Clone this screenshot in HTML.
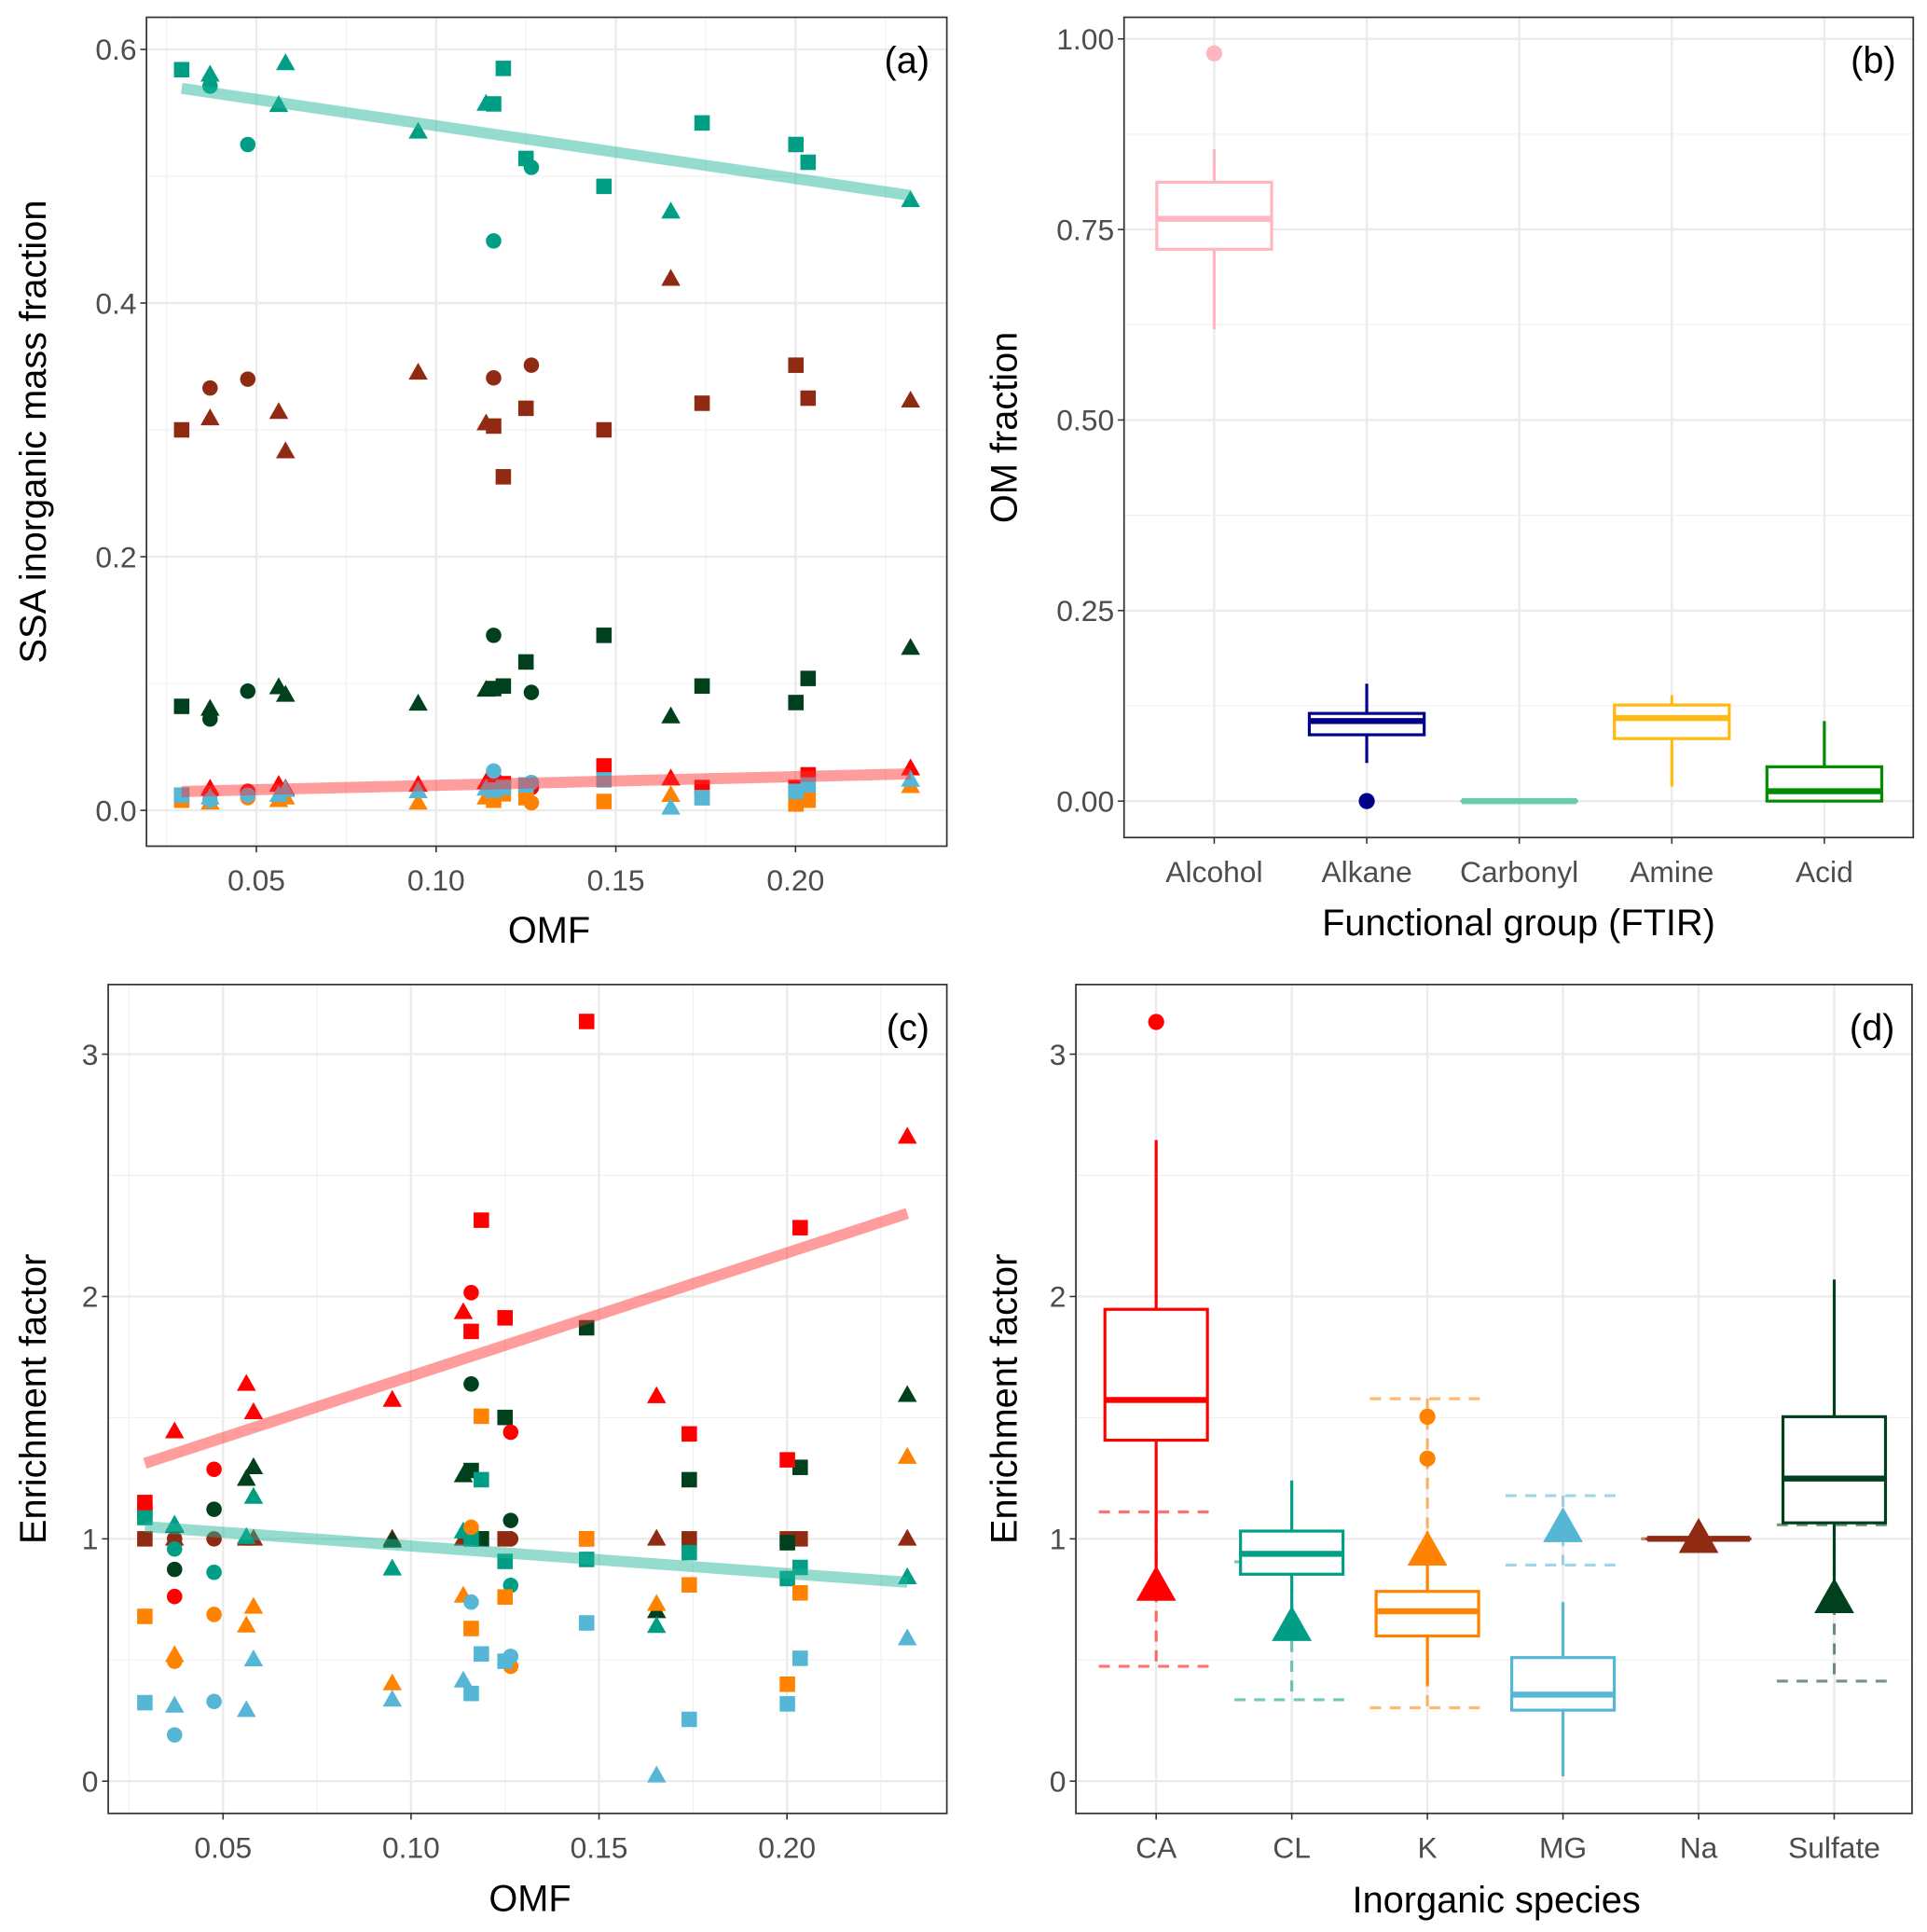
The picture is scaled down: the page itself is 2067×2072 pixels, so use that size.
<!DOCTYPE html>
<html><head><meta charset="utf-8"><style>
html,body{margin:0;padding:0;background:#fff}
svg{display:block}
text{font-family:"Liberation Sans",Arial,sans-serif}
</style></head><body>
<svg id="fig" xmlns="http://www.w3.org/2000/svg" width="2067" height="2072" viewBox="0 0 1560 1564"></svg>
<script>
// ---------- data ----------
const sampleOMF = [0.0292,0.0371,0.0371,0.0476,0.0562,0.0581,0.095,0.1139,0.116,0.116,0.1187,0.125,0.1265,0.1467,0.1653,0.174,0.2001,0.2035,0.232];
const sampleShape = ['s','t','c','c','t','t','t','t','c','s','s','s','c','s','t','s','s','s','t'];
const speciesNames = ['CA','CL','K','MG','Na','Sulfate'];
const speciesColors = ['#FF0000','#009E84','#FF8200','#56B6D6','#912A12','#00401C'];
// panel (a) mass fractions
const massCA = [0.012,0.017,0.013,0.015,0.020,0.017,0.020,0.022,0.021,0.022,0.021,0.020,0.018,0.035,0.025,0.018,0.018,0.028,0.033];
const massCL = [0.584,0.580,0.571,0.525,0.556,0.589,0.535,0.557,0.449,0.557,0.585,0.514,0.507,0.492,0.472,0.542,0.525,0.511,0.481];
const massK = [0.008,0.006,0.007,0.010,0.008,0.010,0.006,0.010,0.012,0.008,0.013,0.010,0.006,0.007,0.012,0.010,0.005,0.008,0.019];
const massMG = [0.012,0.010,0.008,0.012,0.012,0.016,0.015,0.017,0.031,0.016,0.018,0.020,0.022,0.024,0.002,0.010,0.015,0.020,0.024];
const massNa = [0.300,0.309,0.333,0.340,0.314,0.283,0.345,0.305,0.341,0.303,0.263,0.317,0.351,0.300,0.419,0.321,0.351,0.325,0.323];
const massSO4 = [0.082,0.080,0.072,0.094,0.097,0.091,0.084,0.095,0.138,0.096,0.098,0.117,0.093,0.138,0.074,0.098,0.085,0.104,0.128];
// panel (c) enrichment factors
const efCA = [1.15,1.443,0.762,1.287,1.639,1.522,1.573,1.935,2.016,1.856,2.315,1.912,1.44,3.135,1.588,1.433,1.326,2.284,2.659];
const efCL = [1.088,1.058,0.958,0.862,1.007,1.173,0.877,1.03,1.03,1.0,1.244,0.907,0.808,0.915,0.64,0.943,0.836,0.882,0.841];
const efK = [0.68,0.52,0.495,0.688,0.642,0.719,0.403,0.765,1.048,0.63,1.506,0.76,0.474,1.0,0.731,0.81,0.40,0.777,1.338];
const efMG = [0.324,0.311,0.191,0.329,0.293,0.502,0.336,0.415,0.739,0.362,0.525,0.495,0.515,0.653,0.023,0.255,0.319,0.507,0.589];
const efNa = [1,1,1,1,1,1,1,1,1,1,1,1,1,1,1,1,1,1,1];
const efSO4 = [1.111,1.053,0.874,1.122,1.247,1.295,0.992,1.262,1.639,1.282,1.0,1.501,1.076,1.871,0.701,1.244,0.984,1.295,1.593];
// panel (b) boxplots
const fgNames = ['Alcohol','Alkane','Carbonyl','Amine','Acid'];
const fgColors = ['#FFB6C1','#00008B','#66CDAA','#FFB90F','#008B00'];
const fgLow = [0.619,0.050,0,0.019,0];
const fgQ1 = [0.724,0.087,0,0.082,0];
const fgMed = [0.764,0.105,0,0.109,0.013];
const fgQ3 = [0.812,0.115,0,0.126,0.045];
const fgHigh = [0.855,0.154,0,0.139,0.105];
const fgOutliers = [[0.981],[0],[],[],[]];
// panel (d) boxplots
const dLow = [0.856,0.64,0.395,0.02,1,0.79];
const dQ1 = [1.407,0.854,0.599,0.293,1,1.066];
const dMed = [1.573,0.938,0.701,0.357,1,1.249];
const dQ3 = [1.947,1.032,0.783,0.51,1,1.504];
const dHigh = [2.646,1.241,1.03,0.739,1,2.07];
const dOutliers = [[3.133],[],[1.504,1.331],[],[],[]];
const refMean = [0.803,0.637,0.948,1.045,1.0,0.752];
const refLo = [0.474,0.336,0.303,0.892,1.0,0.413];
const refHi = [1.111,0.905,1.578,1.178,1.0,1.058];

// ---------- helpers ----------
const NS='http://www.w3.org/2000/svg';
const svg=document.getElementById('fig');
function el(tag,attrs,parent){const e=document.createElementNS(NS,tag);for(const k in attrs)e.setAttribute(k,attrs[k]);(parent||svg).appendChild(e);return e;}
function txt(s,x,y,size,anchor,fill,parent,rot){const t=el('text',{x:x,y:y,'font-size':size,'text-anchor':anchor,fill:fill},parent);if(rot)t.setAttribute('transform','rotate(-90 '+x+' '+y+')');t.textContent=s;return t;}
function marker(shape,cx,cy,color,parent,sz){
  let m;
  if(shape==='s'){const h=sz*0.5;m=el('rect',{x:cx-h,y:cy-h,width:2*h,height:2*h,fill:color},parent);}
  else if(shape==='c'){m=el('circle',{cx:cx,cy:cy,r:sz*0.5,fill:color},parent);}
  else {const w=sz*0.62,h=sz*1.05;m=el('polygon',{points:(cx-w)+','+(cy+h*0.42)+' '+(cx+w)+','+(cy+h*0.42)+' '+cx+','+(cy-h*0.62),fill:color},parent);}
  return m;
}
function frame(g,L,T,R,B,yticks,yfmt,yminor,ysc,xticks,xlabels,xminor,xsc){
  el('rect',{x:L,y:T,width:R-L,height:B-T,fill:'#fff'},g);
  yminor.forEach(v=>el('line',{x1:L,x2:R,y1:ysc(v),y2:ysc(v),stroke:'#F0F0F0','stroke-width':0.9},g));
  xminor.forEach(v=>el('line',{y1:T,y2:B,x1:xsc(v),x2:xsc(v),stroke:'#F0F0F0','stroke-width':0.9},g));
  yticks.forEach(v=>el('line',{x1:L,x2:R,y1:ysc(v),y2:ysc(v),stroke:'#EBEBEB','stroke-width':1.8},g));
  xticks.forEach(v=>el('line',{y1:T,y2:B,x1:xsc(v),x2:xsc(v),stroke:'#EBEBEB','stroke-width':1.8},g));
  yticks.forEach((v,i)=>{el('line',{x1:L-5,x2:L,y1:ysc(v),y2:ysc(v),stroke:'#333','stroke-width':1.2},g);
    const t=txt(yfmt[i],L-8,ysc(v)+8.5,24,'end','#4D4D4D',g);
    
    });
  xticks.forEach((v,i)=>{el('line',{y1:B,y2:B+5,x1:xsc(v),x2:xsc(v),stroke:'#333','stroke-width':1.2},g);
    const t=txt(xlabels[i],xsc(v),B+36,24,'middle','#4D4D4D',g);
    
    });
}
function border(g,L,T,R,B){el('rect',{x:L,y:T,width:R-L,height:B-T,fill:'none',stroke:'#333','stroke-width':1.3},g);}
function regress(xs,ys){const n=xs.length;let mx=0,my=0;for(let i=0;i<n;i++){mx+=xs[i];my+=ys[i];}mx/=n;my/=n;let sxy=0,sxx=0;for(let i=0;i<n;i++){sxy+=(xs[i]-mx)*(ys[i]-my);sxx+=(xs[i]-mx)**2;}const b=sxy/sxx;return [my-b*mx,b];}

// ---------- scatter panels (a) and (c) ----------
function scatter(name,L,T,R,B,xsc,ysc,yticks,yfmt,yminor,series,ytitle,ytx,label,xtitleY){
  const g=el('g',{});
  
  
  frame(g,L,T,R,B,yticks,yfmt,yminor,ysc,[0.05,0.10,0.15,0.20],['0.05','0.10','0.15','0.20'],[0.025,0.075,0.125,0.175,0.225],xsc);
  const order=[4,5,1,0,2,3];
  order.forEach(si=>{const vals=series[si];
    vals.forEach((v,i)=>{const m=marker(sampleShape[i],xsc(sampleOMF[i]),ysc(v),speciesColors[si],g,12.5);
      
      });});
  const x0=Math.min(...sampleOMF),x1=Math.max(...sampleOMF);
  [[0,'#FF3030'],[1,'#22B59A']].forEach(([si,c])=>{const [a,b]=regress(sampleOMF,series[si]);
    const ln=el('line',{x1:xsc(x0),y1:ysc(a+b*x0),x2:xsc(x1),y2:ysc(a+b*x1),stroke:c,'stroke-width':9,'stroke-opacity':0.48},g);
    
    });
  border(g,L,T,R,B);
  const pl=txt(label,R-14,T+45,30,'end','#000',g);
  
  
  const xt=txt('OMF',(L+R)/2+2,xtitleY,30,'middle','#000',g);
  
  
  const yt=txt(ytitle,ytx,(T+B)/2,30,'middle','#000',g,true);
  
  
}
scatter('panel-a',118.5,14,766.5,685,v=>207.5+(v-0.05)*2910,v=>656-v*1026.7,[0,0.2,0.4,0.6],['0.0','0.2','0.4','0.6'],[0.1,0.3,0.5],
  [massCA,massCL,massK,massMG,massNa,massSO4],'SSA inorganic mass fraction',37,'(a)',763);
scatter('panel-c',87.5,797,766.5,1468,v=>180.5+(v-0.05)*3044,v=>1441.9-v*196.17,[0,1,2,3],['0','1','2','3'],[0.5,1.5,2.5],
  [efCA,efCL,efK,efMG,efNa,efSO4],'Enrichment factor',37,'(c)',1547);

// ---------- panel (b) ----------
(function(){
  const L=910,T=14,R=1549,B=678;
  const xs=i=>983+i*123.5, ys=v=>648.5-v*617;
  const g=el('g',{});
  
  
  frame(g,L,T,R,B,[0,0.25,0.5,0.75,1],['0.00','0.25','0.50','0.75','1.00'],[0.125,0.375,0.625,0.875],ys,[0,1,2,3,4],fgNames,[],xs);
  fgNames.forEach((n,i)=>{const c=fgColors[i],x=xs(i),hw=46.5;
    const bx=el('g',{},g);
    
    
    el('line',{x1:x,x2:x,y1:ys(fgHigh[i]),y2:ys(fgQ3[i]),stroke:c,'stroke-width':2.4},bx);
    el('line',{x1:x,x2:x,y1:ys(fgQ1[i]),y2:ys(fgLow[i]),stroke:c,'stroke-width':2.4},bx);
    el('rect',{x:x-hw,y:ys(fgQ3[i]),width:2*hw,height:Math.max(0.01,ys(fgQ1[i])-ys(fgQ3[i])),fill:'#fff',stroke:c,'stroke-width':2.4},bx);
    el('line',{x1:x-hw,x2:x+hw,y1:ys(fgMed[i]),y2:ys(fgMed[i]),stroke:c,'stroke-width':4.8},bx);
    fgOutliers[i].forEach(v=>el('circle',{cx:x,cy:ys(v),r:6.5,fill:c},bx));
  });
  border(g,L,T,R,B);
  const pl=txt('(b)',R-14,T+45,30,'end','#000',g);
  
  
  const xt=txt('Functional group (FTIR)',(L+R)/2,757,30,'middle','#000',g);
  
  
  const yt=txt('OM fraction',823,(T+B)/2,30,'middle','#000',g,true);
  
  
})();

// ---------- panel (d) ----------
(function(){
  const L=871,T=797,R=1548,B=1468;
  const xs=i=>936+i*109.8, ys=v=>1441.9-v*196.17;
  const g=el('g',{});
  
  
  frame(g,L,T,R,B,[0,1,2,3],['0','1','2','3'],[0.5,1.5,2.5],ys,[0,1,2,3,4,5],speciesNames,[],xs);
  speciesNames.forEach((n,i)=>{const c=speciesColors[i],x=xs(i);
    const eb=el('g',{opacity:0.55},g);
    
    
    const da={stroke:c,'stroke-width':2.4,'stroke-dasharray':'9,7'};
    el('line',Object.assign({x1:x-46.5,x2:x+46.5,y1:ys(refHi[i]),y2:ys(refHi[i])},da),eb);
    el('line',Object.assign({x1:x-46.5,x2:x+46.5,y1:ys(refLo[i]),y2:ys(refLo[i])},da),eb);
    el('line',Object.assign({x1:x,x2:x,y1:ys(refHi[i]),y2:ys(refLo[i])},da),eb);
  });
  speciesNames.forEach((n,i)=>{const c=speciesColors[i],x=xs(i),hw=41.5;
    const bx=el('g',{},g);
    
    
    el('line',{x1:x,x2:x,y1:ys(dHigh[i]),y2:ys(dQ3[i]),stroke:c,'stroke-width':2.4},bx);
    el('line',{x1:x,x2:x,y1:ys(dQ1[i]),y2:ys(dLow[i]),stroke:c,'stroke-width':2.4},bx);
    el('rect',{x:x-hw,y:ys(dQ3[i]),width:2*hw,height:Math.max(0.01,ys(dQ1[i])-ys(dQ3[i])),fill:'#fff',stroke:c,'stroke-width':2.4},bx);
    el('line',{x1:x-hw,x2:x+hw,y1:ys(dMed[i]),y2:ys(dMed[i]),stroke:c,'stroke-width':4.8},bx);
    dOutliers[i].forEach(v=>el('circle',{cx:x,cy:ys(v),r:6.5,fill:c},bx));
  });
  speciesNames.forEach((n,i)=>{
    const m=marker('t',xs(i),ys(refMean[i]),speciesColors[i],g,26);
    
    
  });
  border(g,L,T,R,B);
  const pl=txt('(d)',R-14,T+45,30,'end','#000',g);
  
  
  const xt=txt('Inorganic species',(L+R)/2+2,1548,30,'middle','#000',g);
  
  
  const yt=txt('Enrichment factor',823,(T+B)/2,30,'middle','#000',g,true);
  
  
})();
</script>
</body></html>
